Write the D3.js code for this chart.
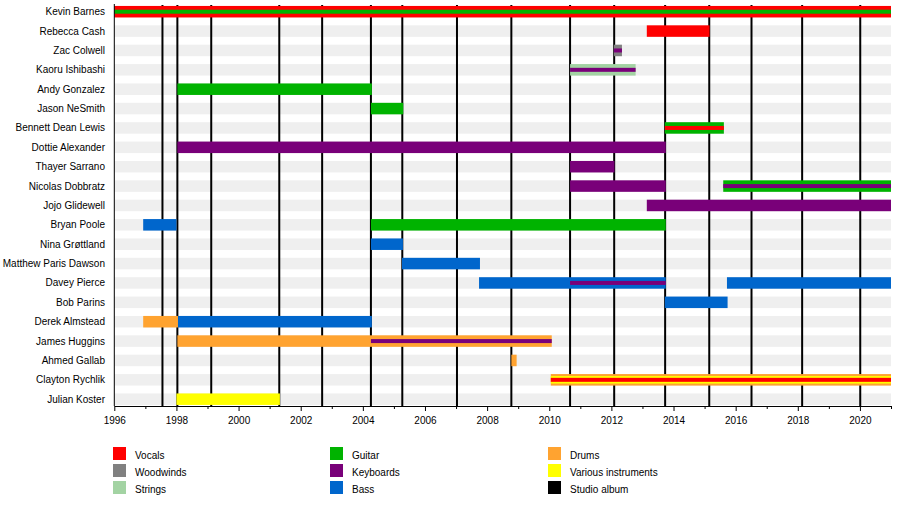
<!DOCTYPE html>
<html lang="en">
<head>
    <meta charset="UTF-8">
    <title>Band members timeline</title>
    <script src="https://d3js.org/d3.v7.min.js"></script>
    <style>
        body { margin: 0; background: #fff; }
        text { font-family: "Liberation Sans", Arial, sans-serif; font-size: 10px; fill: #000; }
        .stripe { fill: #efefef; }
        .album { stroke: #000; stroke-width: 2px; }
    </style>
</head>
<body>
    <svg width="900" height="515"></svg>
    <script>
        const members = [
            "Kevin Barnes", "Rebecca Cash", "Zac Colwell", "Kaoru Ishibashi", "Andy Gonzalez",
            "Jason NeSmith", "Bennett Dean Lewis", "Dottie Alexander", "Thayer Sarrano",
            "Nicolas Dobbratz", "Jojo Glidewell", "Bryan Poole", "Nina Grøttland",
            "Matthew Paris Dawson", "Davey Pierce", "Bob Parins", "Derek Almstead",
            "James Huggins", "Ahmed Gallab", "Clayton Rychlik", "Julian Koster"
        ];

        const instruments = ["Vocals", "Woodwinds", "Strings", "Guitar", "Keyboards", "Bass", "Drums", "Various instruments", "Studio album"];
        const instrumentColors = ["#ff0000", "#808080", "#a3d3a3", "#00b300", "#790079", "#0066cc", "#ffa330", "#ffff00", "#000000"];

        // [member, instrument, from, to]
        const mainRoles = [
            ["Kevin Barnes", "Vocals", 1996, 2021],
            ["Rebecca Cash", "Vocals", 2013.14, 2015.16],
            ["Zac Colwell", "Woodwinds", 2012.08, 2012.34],
            ["Kaoru Ishibashi", "Strings", 2010.67, 2012.78],
            ["Andy Gonzalez", "Guitar", 1998.03, 2004.29],
            ["Jason NeSmith", "Guitar", 2004.26, 2005.3],
            ["Bennett Dean Lewis", "Guitar", 2013.72, 2015.62],
            ["Dottie Alexander", "Keyboards", 1998.03, 2013.75],
            ["Thayer Sarrano", "Keyboards", 2010.67, 2012.1],
            ["Nicolas Dobbratz", "Keyboards", 2010.67, 2013.75],
            ["Nicolas Dobbratz", "Guitar", 2015.6, 2021],
            ["Jojo Glidewell", "Keyboards", 2013.14, 2021],
            ["Bryan Poole", "Bass", 1996.93, 1998.0],
            ["Bryan Poole", "Guitar", 2004.26, 2013.75],
            ["Nina Grøttland", "Bass", 2004.26, 2005.29],
            ["Matthew Paris Dawson", "Bass", 2005.26, 2007.77],
            ["Davey Pierce", "Bass", 2007.74, 2013.75],
            ["Davey Pierce", "Bass", 2015.72, 2021],
            ["Bob Parins", "Bass", 2013.72, 2015.74],
            ["Derek Almstead", "Drums", 1996.93, 1998.05],
            ["Derek Almstead", "Bass", 1998.05, 2004.29],
            ["James Huggins", "Drums", 1998.03, 2010.08],
            ["Ahmed Gallab", "Drums", 2008.78, 2008.95],
            ["Clayton Rychlik", "Drums", 2010.05, 2021],
            ["Julian Koster", "Various instruments", 1998.0, 2001.33]
        ];

        const midRoles = [
            ["Clayton Rychlik", "Various instruments", 2010.05, 2021]
        ];

        const overlayRoles = [
            ["Kevin Barnes", "Guitar", 1996, 2021],
            ["Zac Colwell", "Keyboards", 2012.08, 2012.34],
            ["Kaoru Ishibashi", "Keyboards", 2010.67, 2012.78],
            ["Bennett Dean Lewis", "Vocals", 2013.72, 2015.62],
            ["Nicolas Dobbratz", "Keyboards", 2015.6, 2021],
            ["Davey Pierce", "Keyboards", 2010.67, 2013.75],
            ["James Huggins", "Keyboards", 2004.26, 2010.08],
            ["Clayton Rychlik", "Vocals", 2010.05, 2021]
        ];

        const albums = [1997.55, 1998.03, 1999.12, 2001.31, 2002.69, 2004.26, 2005.27, 2007.03,
                        2008.78, 2010.67, 2012.09, 2013.73, 2015.15, 2016.51, 2018.14, 2020.01];

        const svg = d3.select("svg");
        const x = d3.scaleLinear().domain([1996, 2021]).range([114.3, 891]);
        const y = d3.scalePoint().domain(members).range([11.7, 399.2]);
        const color = d3.scaleOrdinal().domain(instruments).range(instrumentColors);
        const axisY = 406, barH = 11.5;

        // background stripes per row
        svg.append("g").selectAll("rect")
            .data(members)
            .join("rect")
            .attr("class", "stripe")
            .attr("x", x(1996))
            .attr("width", x(2021) - x(1996))
            .attr("y", d => y(d) - barH / 2)
            .attr("height", barH);

        // studio albums
        svg.append("g").selectAll("line")
            .data(albums)
            .join("line")
            .attr("class", "album")
            .attr("x1", d => x(d)).attr("x2", d => x(d))
            .attr("y1", 5).attr("y2", axisY);

        function drawBars(data, h) {
            svg.append("g").selectAll("rect")
                .data(data)
                .join("rect")
                .attr("x", d => x(d[2]))
                .attr("width", d => x(d[3]) - x(d[2]))
                .attr("y", d => y(d[0]) - h / 2)
                .attr("height", h)
                .attr("fill", d => color(d[1]));
        }
        drawBars(mainRoles, barH);
        drawBars(midRoles, 7.5);
        drawBars(overlayRoles, 4);

        // left border
        svg.append("line")
            .attr("x1", x(1996)).attr("x2", x(1996))
            .attr("y1", 4).attr("y2", axisY)
            .attr("stroke", "#000").attr("stroke-width", 1);

        // member names
        svg.append("g").selectAll("text")
            .data(members)
            .join("text")
            .attr("x", 105)
            .attr("y", d => y(d))
            .attr("dy", "0.35em")
            .attr("text-anchor", "end")
            .text(d => d);

        // x axis
        const major = d3.range(1996, 2021, 2);
        const minor = d3.range(1997, 2022, 2);
        const gMinor = svg.append("g").attr("transform", `translate(0,${axisY})`)
            .call(d3.axisBottom(x).tickValues(minor).tickSize(3).tickSizeOuter(0).tickFormat(""));
        gMinor.select(".domain").remove();
        const gMajor = svg.append("g").attr("transform", `translate(0,${axisY})`)
            .call(d3.axisBottom(x).tickValues(major).tickSize(5).tickSizeOuter(0).tickPadding(6).tickFormat(d3.format("d")));
        gMajor.selectAll("text").style("font-family", "'Liberation Sans', Arial, sans-serif").style("font-size", "10px").attr("fill", "#000");
        svg.selectAll(".domain, .tick line").attr("stroke", "#000");

        // legend
        const legendX = [113, 330, 548];
        const legendY = [447, 464, 481];
        const legend = svg.append("g").selectAll("g")
            .data(instruments)
            .join("g")
            .attr("transform", (d, i) => `translate(${legendX[Math.floor(i / 3)]},${legendY[i % 3]})`);
        legend.append("rect")
            .attr("width", 13).attr("height", 13)
            .attr("fill", d => color(d));
        legend.append("text")
            .attr("x", 22).attr("y", 8)
            .attr("dy", "0.35em")
            .text(d => d);
    </script>
</body>
</html>
